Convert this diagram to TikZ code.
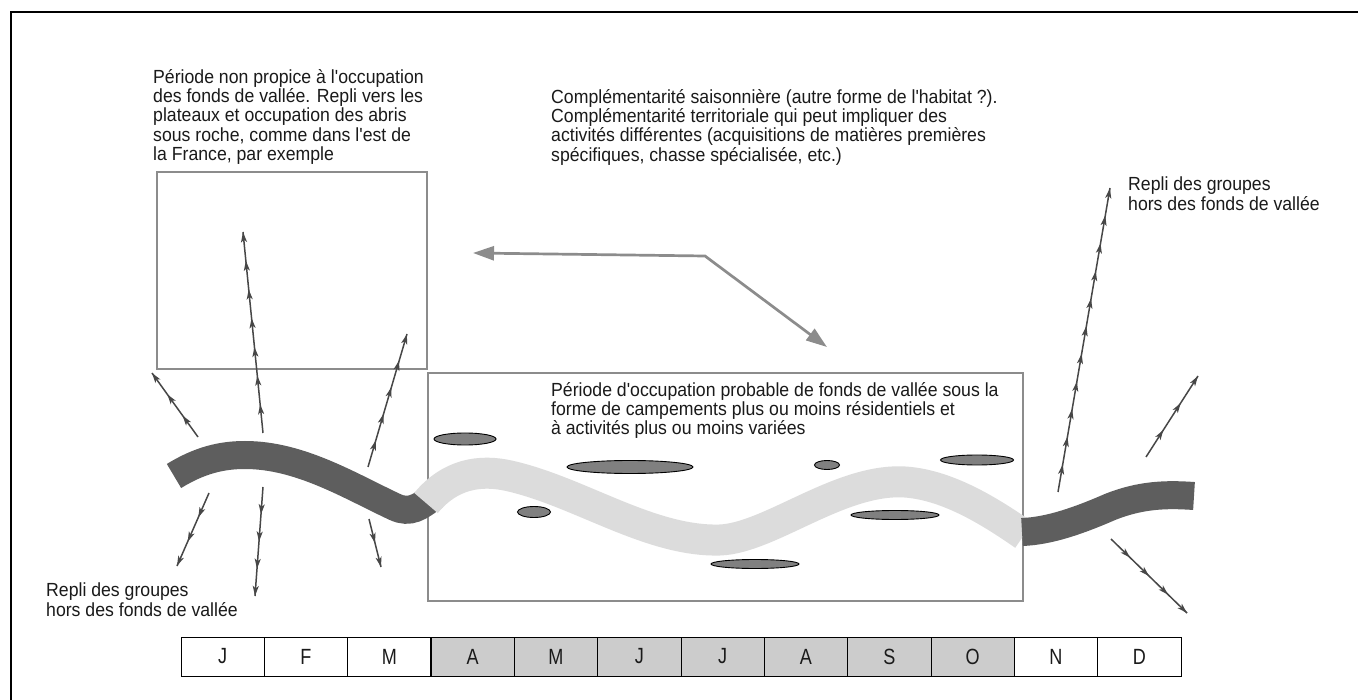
\documentclass[tikz,border=0pt]{standalone}
\usepackage{fontspec}
\setmainfont{Liberation Sans}[Ligatures=TeXOff]
\newfontfamily\narrowfont{Liberation Sans}[Ligatures=TeXOff,FakeStretch=0.93]
\newfontfamily\monthfont{Liberation Sans}[Ligatures=TeXOff,FakeStretch=0.82]
\usetikzlibrary{arrows.meta,decorations.markings,shapes.geometric}
\definecolor{darkriver}{HTML}{5E5E5E}
\definecolor{lightriver}{HTML}{DCDCDC}
\definecolor{boxgray}{HTML}{8C8C8C}
\definecolor{arrowc}{HTML}{474747}
\definecolor{campfill}{HTML}{808080}
\definecolor{monthgray}{HTML}{CCCCCC}
\definecolor{txtc}{HTML}{1A1A1A}
\tikzset{
  mytip/.tip={Stealth[length=10pt,width=6pt,inset=2.5pt]},
  bigtip/.tip={Triangle[length=21pt,width=14pt]},
  txt/.style={anchor=north west, align=left, inner sep=0pt, text=txtc,
    font=\narrowfont\fontsize{19}{19.3}\selectfont},
  gbox/.style={draw=boxgray, line width=1.4pt, rectangle, inner sep=0pt},
  camp/.style={ellipse, draw=black, fill=campfill, line width=0.9pt, inner sep=0pt},
  month/.style={rectangle, draw=black, line width=1pt, inner sep=0pt,
    minimum width=83.33pt, minimum height=39pt, text=txtc,
    font=\monthfont\fontsize{22}{24}\selectfont},
  graylink/.style={draw=boxgray, line width=2.7pt, bigtip-bigtip, line join=miter},
  multi/.style={color=arrowc, line width=1.5pt,
    postaction={decorate, decoration={markings,
      mark=between positions #1 and 0.99 step #1 with {\arrow{mytip}},
      mark=at position 0.999 with {\arrow{mytip}}}}},
  riverdark/.style={draw=darkriver, line width=28pt, line cap=butt},
  riverlight/.style={draw=lightriver, line width=31pt, line cap=butt},
}
\begin{document}
\begin{tikzpicture}[x=1pt,y=-1pt]
\useasboundingbox (0,0) rectangle (1358,700);
\fill[white] (0,0) rectangle (1358,700);
% outer frame (partly visible)
\draw[black, line width=1.5pt] (11,700) -- (11,12) -- (1358,12);

% boxes
\node[gbox, minimum width=270pt, minimum height=197pt] (box1) at (292,270.5) {};
\node[gbox, minimum width=595pt, minimum height=228pt] (box2) at (725.5,487) {};

% rivers
\draw[riverdark] (174,476) .. controls (200,460) and (222,455) .. (245,455)
  .. controls (300,455) and (350,486) .. (395,507)
  .. controls (410,514) and (420,507) .. (434,496);
\draw[riverlight] (426,503) .. controls (450,474) and (480,469) .. (510,476)
  .. controls (580,492) and (650,542) .. (720,540)
  .. controls (770,538) and (840,478) .. (905,482)
  .. controls (950,485) and (995,515) .. (1024,535);
\draw[riverdark] (1022,532) .. controls (1050,531) and (1080,520) .. (1110,507)
  .. controls (1140,495) and (1165,494) .. (1194,496);

% campments
\node[camp, minimum width=62pt, minimum height=12pt] (e1) at (465,439) {};
\node[camp, minimum width=126pt, minimum height=13pt] (e2) at (630,467) {};
\node[camp, minimum width=33pt, minimum height=11pt] (e3) at (534,512) {};
\node[camp, minimum width=25pt, minimum height=9pt] (e4) at (827,465) {};
\node[camp, minimum width=73pt, minimum height=10pt] (e5) at (977,460) {};
\node[camp, minimum width=88pt, minimum height=9pt] (e6) at (895,515) {};
\node[camp, minimum width=88pt, minimum height=9pt] (e7) at (755,564) {};

% multi-headed arrows (movements)
\coordinate (a1s) at (263,433); \coordinate (a1e) at (243,232);
\coordinate (a2s) at (198,437); \coordinate (a2e) at (152,373);
\coordinate (a3s) at (368,467); \coordinate (a3e) at (407,334);
\coordinate (a4s) at (209,493); \coordinate (a4e) at (177,566);
\coordinate (a5s) at (263,487); \coordinate (a5e) at (255,596);
\coordinate (a6s) at (369,519); \coordinate (a6e) at (381,567);
\coordinate (a7s) at (1058,492); \coordinate (a7e) at (1110,188);
\coordinate (a8s) at (1146,457); \coordinate (a8e) at (1198,376);
\coordinate (a9s) at (1111,539); \coordinate (a9e) at (1187,613);
\draw[multi=0.142857] (a1s) -- (a1e);
\draw[multi=0.333333] (a2s) -- (a2e);
\draw[multi=0.2] (a3s) -- (a3e);
\draw[multi=0.333333] (a4s) -- (a4e);
\draw[multi=0.25] (a5s) -- (a5e);
\draw[multi=0.5] (a6s) -- (a6e);
\draw[multi=0.090909] (a7s) -- (a7e);
\draw[multi=0.333333] (a8s) -- (a8e);
\draw[multi=0.25] (a9s) -- (a9e);

% complementarity connector
\coordinate (gl) at (473,253);
\coordinate (gb) at (705,256);
\coordinate (gr) at (827,347);
\draw[graylink] (gl) -- (gb) -- (gr);

% texts
\node[txt] (t1) at (153,69) {Période non propice à l'occupation\\des fonds de vallée. Repli vers les\\plateaux et occupation des abris\\sous roche, comme dans l'est de\\la France, par exemple};
\node[txt] (t2) at (551,89) {Complémentarité saisonnière (autre forme de l'habitat ?).\\Complémentarité territoriale qui peut impliquer des\\activités différentes (acquisitions de matières premières\\spécifiques, chasse spécialisée, etc.)};
\node[txt] (t3) at (1128,177) {Repli des groupes\\hors des fonds de vallée};
\node[txt] (t4) at (46,583) {Repli des groupes\\hors des fonds de vallée};
\node[txt] (t5) at (551,382) {Période d'occupation probable de fonds de vallée sous la\\forme de campements plus ou moins résidentiels et\\à activités plus ou moins variées};

% months
\node[month] (m1) at (222.67,656.5) {J};
\node[month] (m2) at (306.00,656.5) {F};
\node[month] (m3) at (389.33,656.5) {M};
\node[month, fill=monthgray] (m4) at (472.67,656.5) {A};
\node[month, fill=monthgray] (m5) at (556.00,656.5) {M};
\node[month, fill=monthgray] (m6) at (639.33,656.5) {J};
\node[month, fill=monthgray] (m7) at (722.67,656.5) {J};
\node[month, fill=monthgray] (m8) at (806.00,656.5) {A};
\node[month, fill=monthgray] (m9) at (889.33,656.5) {S};
\node[month, fill=monthgray] (m10) at (972.67,656.5) {O};
\node[month] (m11) at (1056.00,656.5) {N};
\node[month] (m12) at (1139.33,656.5) {D};
\end{tikzpicture}
\end{document}
